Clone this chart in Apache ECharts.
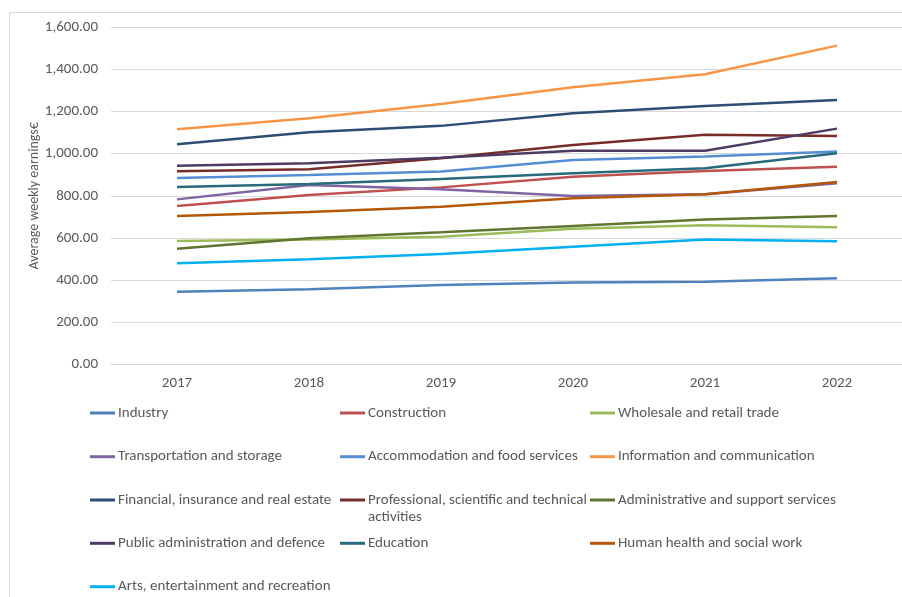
<!DOCTYPE html>
<html>
<head>
<meta charset="utf-8">
<script src="https://cdn.jsdelivr.net/npm/echarts@6/dist/echarts.min.js"></script>
<style>
  html, body { margin: 0; padding: 0; background: #ffffff; }
  #chart { width: 902px; height: 597px; }
</style>
</head>
<body>
<div id="chart"></div>
<script>
// Average weekly earnings (€) by economic sector, 2017-2022
const years = ['2017', '2018', '2019', '2020', '2021', '2022'];
const yTicks = { min: 0, max: 1600, step: 200 };

const industry        = [345, 356, 377, 388, 392, 408];
const construction    = [752, 804, 840, 891, 918, 938];
const wholesale       = [585, 593, 606, 644, 660, 651];
const transportation  = [783, 851, 831, 799, 807, 859];
const accommodation   = [885, 899, 915, 970, 986, 1010];
const information     = [1116, 1168, 1236, 1315, 1377, 1513];
const financial       = [1045, 1102, 1132, 1192, 1226, 1255];
const professional    = [916, 926, 978, 1041, 1090, 1084];
const administrative  = [549, 598, 627, 657, 688, 704];
const publicAdmin     = [943, 954, 981, 1014, 1014, 1119];
const education       = [842, 856, 880, 907, 931, 1002];
const health          = [704, 723, 748, 788, 807, 866];
const arts            = [480, 499, 524, 558, 593, 584];

const seriesNames = [
  'Industry',
  'Construction',
  'Wholesale and retail trade',
  'Transportation and storage',
  'Accommodation and food services',
  'Information and communication',
  'Financial, insurance and real estate',
  'Professional, scientific and technical activities',
  'Administrative and support services',
  'Public administration and defence',
  'Education',
  'Human health and social work',
  'Arts, entertainment and recreation'
];
const seriesValues = [
  industry, construction, wholesale, transportation, accommodation, information,
  financial, professional, administrative, publicAdmin, education, health, arts
];
const seriesColors = [
  '#4F81BD', '#C0504D', '#9BBB59', '#8064A2', '#558ED5', '#F79646',
  '#2C4D75', '#772C2A', '#5F7530', '#4D3B62', '#276A7C', '#B65708', '#00B0F0'
];

const FONT = 'Carlito, Lato, sans-serif';
const TEXT = '#595959';

// legend grid: three columns, one row every ~43.4px
const colLeft = [90, 340, 590];
const rowCenter = [413, 456.7, 500, 543.3, 586.7];

// two-line entry: the bar sits beside the first line, the box spans both lines
const TALL_ICON = 'path://M0,7L25,7L25,10L0,10Z M0,0L0,0 M0,34L0,34';

const legends = seriesNames.map(function (name, i) {
  const col = i % 3, row = Math.floor(i / 3);
  const wrapped = name === 'Professional, scientific and technical activities';
  return {
    data: [name],
    left: colLeft[col],
    top: rowCenter[row] - 8.5,
    padding: 0,
    itemWidth: 25,
    itemHeight: wrapped ? 34 : 3,
    icon: wrapped ? TALL_ICON : 'rect',
    selectedMode: false,
    formatter: function (n) {
      return wrapped ? 'Professional, scientific and technical\nactivities' : n;
    },
    textStyle: {
      color: TEXT,
      fontFamily: FONT,
      fontSize: 15,
      lineHeight: 17,
      padding: [0, 0, 0, -2]
    }
  };
});

const chart = echarts.init(document.getElementById('chart'), null, { renderer: 'canvas' });

chart.setOption({
  backgroundColor: '#ffffff',
  animation: false,
  color: seriesColors,
  graphic: [{
    type: 'rect',
    silent: true,
    z: -10,
    shape: { x: 9.5, y: 12.5, width: 1000, height: 1000 },
    style: { fill: 'none', stroke: '#d9d9d9', lineWidth: 1 }
  }],
  grid: { left: 111, top: 27.3, right: -1, height: 337, containLabel: false, outerBoundsMode: 'none' },
  legend: legends,
  xAxis: {
    type: 'category',
    data: years,
    boundaryGap: true,
    axisLine: { show: true, lineStyle: { color: '#d9d9d9', width: 1 } },
    axisTick: { show: false },
    axisLabel: { color: TEXT, fontFamily: FONT, fontSize: 15, margin: 11 }
  },
  yAxis: {
    type: 'value',
    min: yTicks.min,
    max: yTicks.max,
    interval: yTicks.step,
    name: 'Average weekly earnings€',
    nameLocation: 'middle',
    nameRotate: 90,
    nameGap: 70,
    nameMoveOverlap: false,
    nameTextStyle: { color: TEXT, fontFamily: FONT, fontSize: 14 },
    axisLine: { show: false },
    axisTick: { show: false },
    splitLine: { lineStyle: { color: '#d9d9d9', width: 1 } },
    axisLabel: {
      color: TEXT,
      fontFamily: FONT,
      fontSize: 15,
      margin: 13,
      formatter: function (v) {
        return v.toLocaleString('en-US', { minimumFractionDigits: 2, maximumFractionDigits: 2 });
      }
    }
  },
  series: seriesNames.map(function (name, i) {
    return {
      name: name,
      type: 'line',
      data: seriesValues[i],
      showSymbol: false,
      symbol: 'none',
      smooth: false,
      lineStyle: { width: 2.5, color: seriesColors[i] },
      itemStyle: { color: seriesColors[i] }
    };
  })
});
</script>
</body>
</html>
